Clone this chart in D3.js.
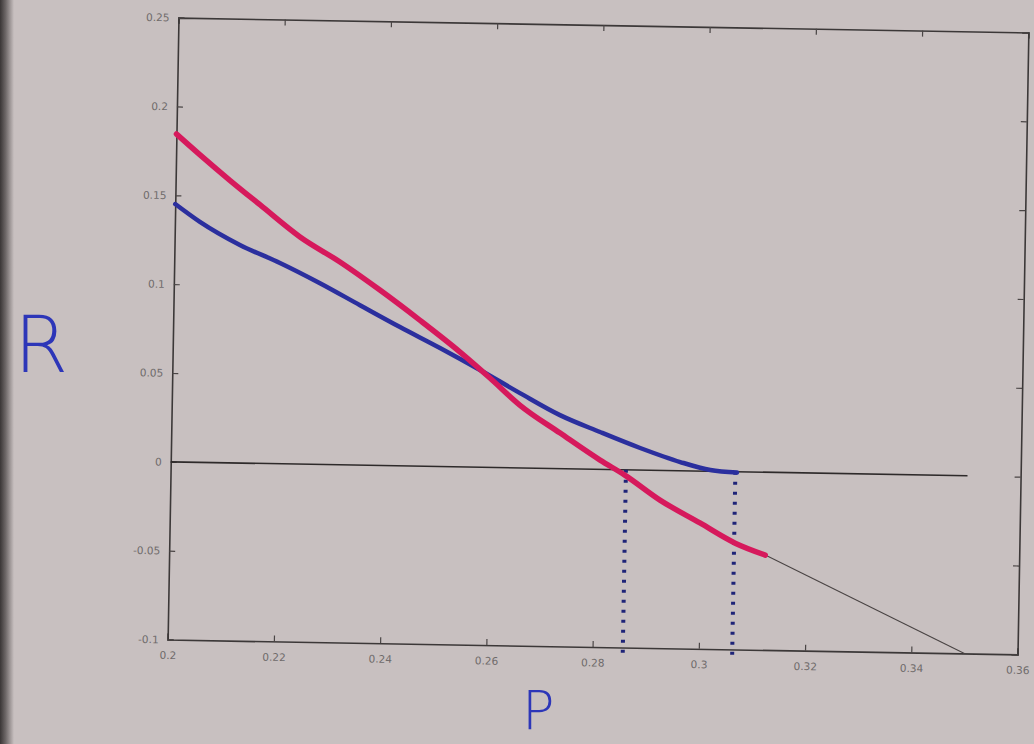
<!DOCTYPE html>
<html>
<head>
<meta charset="utf-8">
<script src="https://cdn.jsdelivr.net/npm/d3@7"></script>
<style>
  body { margin: 0; background: #c8c0c0; }
  svg { display: block; }
  .tick text { fill: #6e6a6a; font-family: "DejaVu Sans", sans-serif; font-size: 10.5px; }
  .hand { font-family: "DejaVu Sans", sans-serif; font-weight: 200; fill: #2d36b8; }
</style>
</head>
<body>
<svg id="chart" width="1034" height="744"></svg>
<script>
// data
const redP = [0.2, 0.2045, 0.2102, 0.216, 0.2236, 0.2312, 0.2388, 0.2464, 0.2541, 0.2598, 0.2655, 0.2732, 0.2808, 0.2855, 0.2922, 0.2998, 0.3065, 0.3122]
const redR = [0.1845, 0.173, 0.159, 0.1454, 0.1278, 0.1141, 0.0987, 0.0822, 0.0646, 0.0503, 0.0354, 0.020, 0.0052, -0.003, -0.0167, -0.0292, -0.0402, -0.0466]

const blueP = [0.2, 0.2047, 0.2123, 0.2199, 0.2275, 0.2351, 0.2427, 0.2503, 0.2579, 0.2655, 0.2731, 0.2807, 0.2883, 0.2959, 0.3016, 0.3066]
const blueR = [0.1451, 0.1353, 0.1227, 0.113, 0.102, 0.090, 0.0781, 0.0667, 0.0547, 0.0421, 0.0301, 0.021, 0.0124, 0.0049, 0.0007, -0.0005]

// thin black line continuing past the red one
const tailP = [0.3122, 0.35]
const tailR = [-0.0466, -0.1]

// zero line
const zeroP = [0.2, 0.35]

// dotted drop lines
const dropP = [0.2857, 0.3063]
const dropBottom = [-0.103, -0.107]

const xTicks = [0.2, 0.22, 0.24, 0.26, 0.28, 0.3, 0.32, 0.34, 0.36]
const xTickLabels = ['0.2', '0.22', '0.24', '0.26', '0.28', '0.3', '0.32', '0.34', '0.36']
const yTicks = [-0.1, -0.05, 0, 0.05, 0.1, 0.15, 0.2, 0.25]
const yTickLabels = ['-0.1', '-0.05', '0', '0.05', '0.1', '0.15', '0.2', '0.25']

const svg = d3.select('#chart')
const W = 1034, H = 744

// dark strip on the left edge of the photo
const defs = svg.append('defs')
const grad = defs.append('linearGradient').attr('id', 'edge').attr('x1', 0).attr('x2', 1)
grad.append('stop').attr('offset', 0).attr('stop-color', '#3a3636')
grad.append('stop').attr('offset', 0.4).attr('stop-color', '#6d6767')
grad.append('stop').attr('offset', 1).attr('stop-color', '#c8c0c0')
svg.append('rect').attr('width', W).attr('height', H).attr('fill', '#c8c0c0')
svg.append('rect').attr('width', 14).attr('height', H).attr('fill', 'url(#edge)')

const margin = {left: 173, top: 25}
const width = 850
const height = 622

// the photo is slightly tilted
const g = svg.append('g').attr('transform', 'rotate(1, 598, 336)')
  .append('g').attr('transform', `translate(${margin.left}, ${margin.top})`)

const x = d3.scaleLinear().domain([0.2, 0.36]).range([0, width])
const y = d3.scaleLinear().domain([-0.1, 0.25]).range([height, 0])

const fmtX = d => xTickLabels[xTicks.indexOf(d)]
const fmtY = d => yTickLabels[yTicks.indexOf(d)]

g.append('g').attr('transform', `translate(0, ${height})`)
  .call(d3.axisBottom(x).tickValues(xTicks).tickFormat(fmtX).tickSize(-6).tickPadding(12))
g.append('g')
  .call(d3.axisTop(x).tickValues(xTicks).tickFormat('').tickSize(-6))
g.append('g')
  .call(d3.axisLeft(y).tickValues(yTicks).tickFormat(fmtY).tickSize(-6).tickPadding(9))
g.append('g').attr('transform', `translate(${width}, 0)`)
  .call(d3.axisRight(y).tickValues(yTicks).tickFormat('').tickSize(-6))

g.selectAll('.domain').attr('stroke', '#3c3838').attr('stroke-width', 1.6)
g.selectAll('.tick line').attr('stroke', '#4a4545').attr('stroke-width', 1.2)

const line = d3.line().x(d => x(d[0])).y(d => y(d[1]))

// zero line
g.append('path')
  .datum(zeroP.map(p => [p, 0]))
  .attr('d', line)
  .attr('fill', 'none').attr('stroke', '#2e2a2a').attr('stroke-width', 1.6)

// thin tail
g.append('path')
  .datum(tailP.map((p, i) => [p, tailR[i]]))
  .attr('d', line)
  .attr('fill', 'none').attr('stroke', '#4a4444').attr('stroke-width', 1.1)

// dotted drop lines
g.selectAll('.drop').data(dropP).enter().append('line')
  .attr('class', 'drop')
  .attr('x1', d => x(d)).attr('x2', d => x(d))
  .attr('y1', y(0)).attr('y2', (d, i) => y(dropBottom[i]))
  .attr('stroke', '#1f2478').attr('stroke-width', 4)
  .attr('stroke-dasharray', '3 7')

const smooth = d3.line().x(d => x(d[0])).y(d => y(d[1])).curve(d3.curveMonotoneX)

// blue curve
g.append('path')
  .datum(blueP.map((p, i) => [p, blueR[i]]))
  .attr('d', smooth)
  .attr('fill', 'none').attr('stroke', '#2b2f9e').attr('stroke-width', 4.5)
  .attr('stroke-linecap', 'round')

// red curve
g.append('path')
  .datum(redP.map((p, i) => [p, redR[i]]))
  .attr('d', smooth)
  .attr('fill', 'none').attr('stroke', '#d6195c').attr('stroke-width', 5.5)
  .attr('stroke-linecap', 'round')

// handwritten axis letters
svg.append('text').attr('class', 'hand')
  .attr('x', 14).attr('y', 372).attr('font-size', 78)
  .text('R')
svg.append('text').attr('class', 'hand')
  .attr('x', 522).attr('y', 729).attr('font-size', 54)
  .text('P')
</script>
</body>
</html>
